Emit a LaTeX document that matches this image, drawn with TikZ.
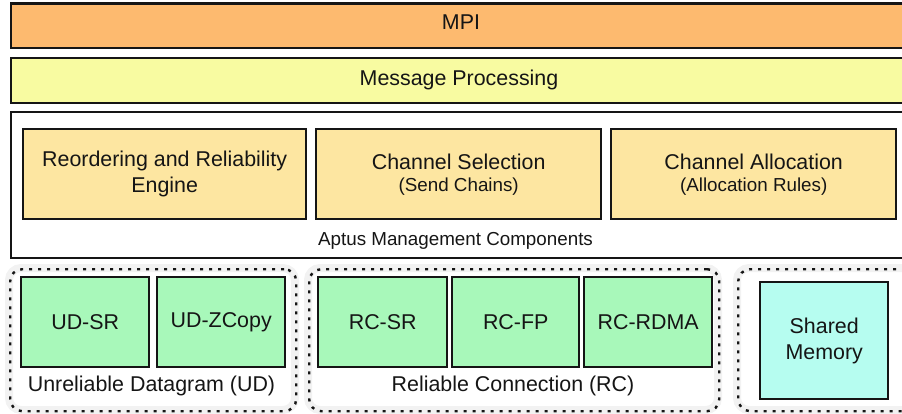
\documentclass[tikz,border=0pt]{standalone}
\usepackage{fontspec}
\setmainfont{Liberation Sans}
\definecolor{mpicol}{HTML}{FDBA6F}
\definecolor{msgcol}{HTML}{F8FBA1}
\definecolor{compcol}{HTML}{FDE6A1}
\definecolor{chancol}{HTML}{A8F8BA}
\definecolor{shmcol}{HTML}{B6FDF0}
\definecolor{inkcol}{HTML}{151515}
\newcommand{\mainsize}{\fontsize{21.4}{26}\selectfont}
\newcommand{\subsize}{\fontsize{18.8}{22}\selectfont}
\tikzset{
  boxbase/.style={draw=inkcol, line width=2.4pt, rectangle, inner sep=0pt,
    anchor=north west, align=center, text=inkcol, font=\mainsize},
  layerbox/.style={boxbase},
  compbox/.style={boxbase, fill=compcol, minimum height=90pt},
  chanbox/.style={boxbase, fill=chancol, minimum height=90pt},
  shmbox/.style={boxbase, fill=shmcol},
  groupbox/.style={draw=inkcol, line width=2.4pt, dash pattern=on 3pt off 6pt,
    rounded corners=12pt, rectangle, inner sep=0pt, anchor=north west},
  grouphalo/.style={draw=black!5, line width=8pt, rounded corners=12pt},
  caption/.style={text=inkcol, inner sep=0pt},
}
\begin{document}
\begin{tikzpicture}[x=1pt, y=-1pt]
\useasboundingbox (0,0) rectangle (902,414);
\clip (0,0) rectangle (902,414);

% top layers
\node[layerbox, fill=mpicol, minimum width=905pt, minimum height=44.5pt] (mpi) at (10,2.5) {};
\node[caption, font=\mainsize] (mpitext) at (461,22.5) {MPI};
\node[layerbox, fill=msgcol, minimum width=905pt, minimum height=45pt] (msg) at (10,57) {};
\node[caption, font=\mainsize] (msgtext) at (459,79.5) {Message Processing};

% management components
\node[layerbox, fill=white, minimum width=905pt, minimum height=146pt] (aptus) at (10,111) {};
\node[compbox, minimum width=283pt] (reorder) at (22,128)
  {Reordering and Reliability\\Engine};
\node[compbox, minimum width=285pt] (chansel) at (315,128)
  {Channel Selection\\[-4pt]{\subsize (Send Chains)}};
\node[compbox, minimum width=285pt] (chanalloc) at (610,128)
  {Channel Allocation\\[-4pt]{\subsize (Allocation Rules)}};
\node[caption, font=\subsize] (aptuslabel) at (455.5,241) {Aptus Management Components};

% transport groups
\draw[grouphalo] (9,268) rectangle (295,410);
\draw[grouphalo] (308,268) rectangle (718,410);
\draw[grouphalo] (737,268) rectangle (925,410);
\node[groupbox, minimum width=286pt, minimum height=142pt] (ud) at (9,268) {};
\node[groupbox, minimum width=410pt, minimum height=142pt] (rc) at (308,268) {};
\node[groupbox, minimum width=188pt, minimum height=142pt] (shm) at (737,268) {};

\node[chanbox, minimum width=128pt] (udsr) at (20,276) {UD-SR};
\node[chanbox, minimum width=128pt] (udzc) at (156,276) {UD-ZCopy};
\node[caption, font=\mainsize] (udlabel) at (151.5,386) {Unreliable Datagram (UD)};

\node[chanbox, minimum width=129pt] (rcsr) at (317,276) {RC-SR};
\node[chanbox, minimum width=127pt] (rcfp) at (451,276) {RC-FP};
\node[chanbox, minimum width=128pt] (rcrdma) at (583,276) {RC-RDMA};
\node[caption, font=\mainsize] (rclabel) at (513,386) {Reliable Connection (RC)};

\node[shmbox, minimum width=128pt, minimum height=117pt] (shmem) at (759,281)
  {Shared\\Memory};
\end{tikzpicture}
\end{document}
